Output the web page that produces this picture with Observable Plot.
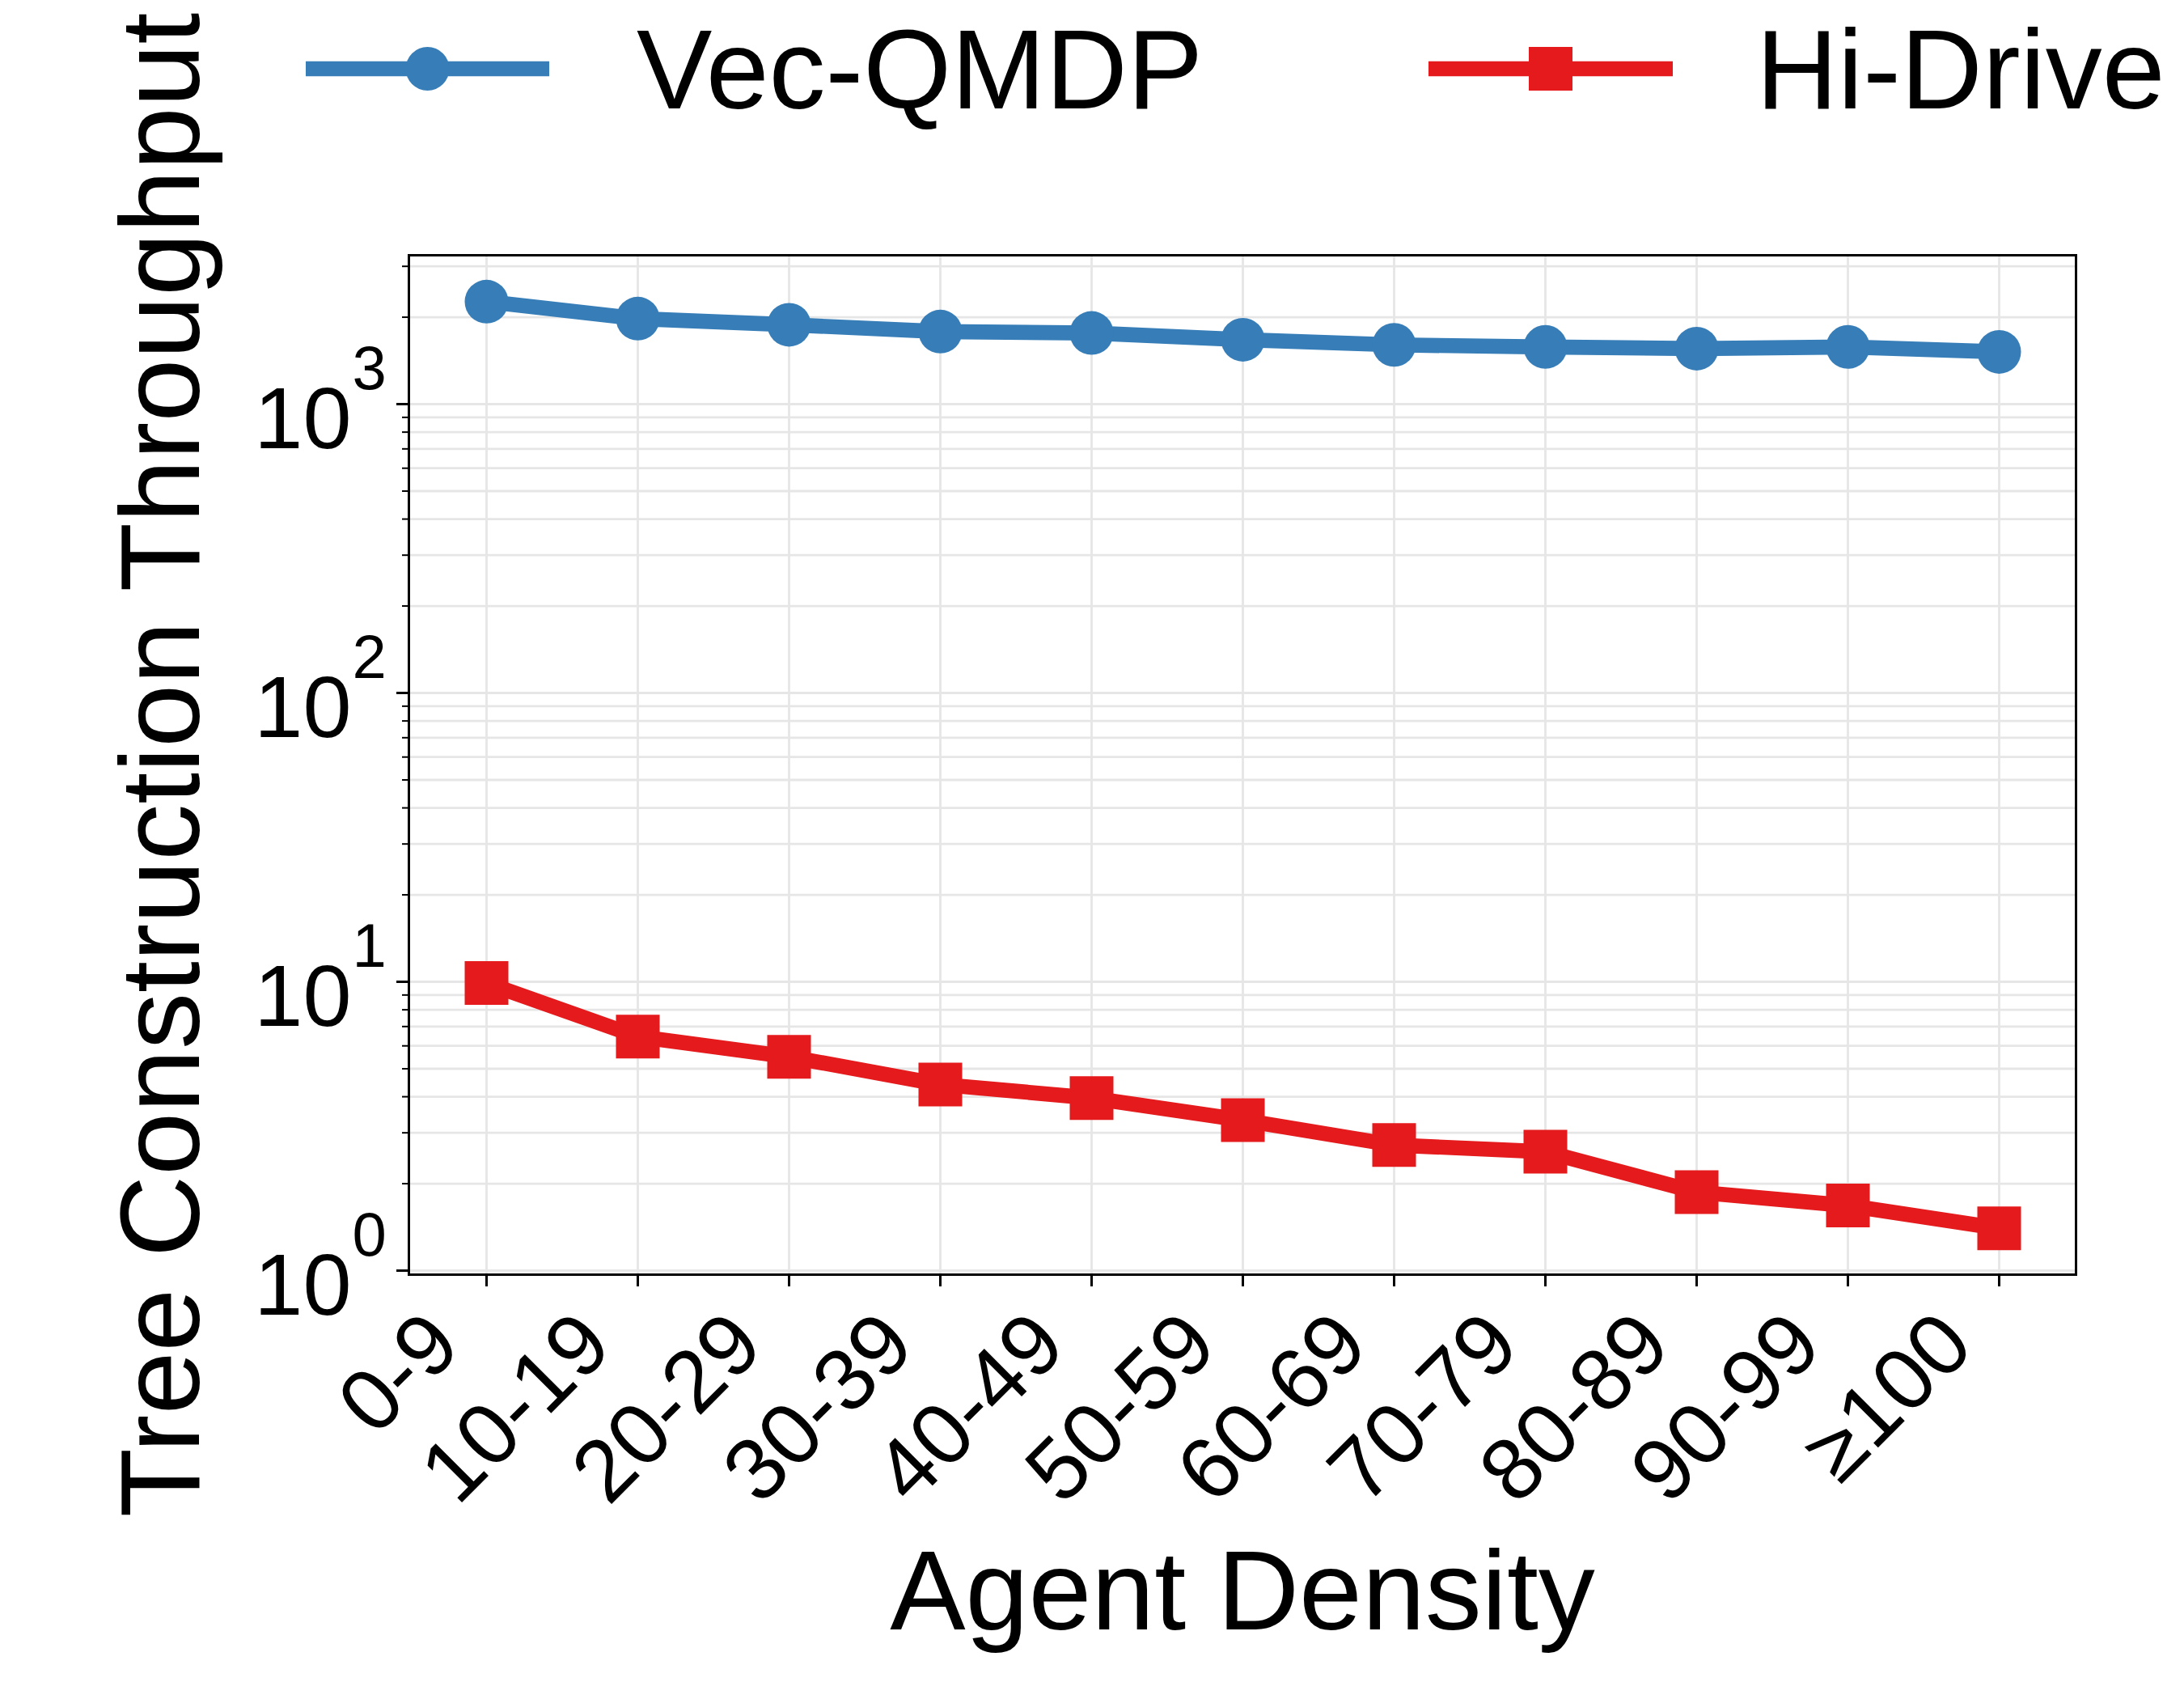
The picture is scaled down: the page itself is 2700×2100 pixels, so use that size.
<!DOCTYPE html>
<html>
<head>
<meta charset="utf-8">
<script src="https://cdn.jsdelivr.net/npm/d3@7"></script>
<script src="https://cdn.jsdelivr.net/npm/@observablehq/plot@0.6"></script>
<style>
  html, body { margin: 0; padding: 0; background: #fff; }
  #wrap { position: relative; width: 2700px; height: 2100px; overflow: hidden; background: #fff; }
  #legend { position: absolute; left: 0; top: 0; }
  #chart { position: absolute; left: 0; top: 0; }
</style>
</head>
<body>
<div id="wrap">
  <div id="chart"></div>
  <svg id="legend" width="2700" height="200"></svg>
</div>
<script>
// ---- data ----
const categories = ["0-9", "10-19", "20-29", "30-39", "40-49", "50-59", "60-69", "70-79", "80-89", "90-99", "≥100"];
const vecQmdp = [2264, 1977, 1883, 1783, 1763, 1671, 1604, 1578, 1557, 1578, 1517];
const hiDrive = [9.9, 6.46, 5.50, 4.41, 3.96, 3.32, 2.72, 2.58, 1.87, 1.68, 1.40];
const seriesNames = ["Vec-QMDP", "Hi-Drive"];
const seriesColors = ["#377eb8", "#e41a1c"];
const seriesSymbols = ["circle", "square"];
const majorTicks = [1, 10, 100, 1000];
const majorExponents = ["0", "1", "2", "3"];
const minorTicks = [2, 3, 4, 5, 6, 7, 8, 9, 20, 30, 40, 50, 60, 70, 80, 90, 200, 300, 400, 500, 600, 700, 800, 900, 2000, 3000];
const xLabel = "Agent Density";
const yLabel = "Tree Construction Throughput";

const font = "'Liberation Sans', Arial, Helvetica, sans-serif";
const gridColor = "#e6e6e6";

const vecRows = categories.map((c, i) => ({cat: c, value: vecQmdp[i]}));
const hiRows = categories.map((c, i) => ({cat: c, value: hiDrive[i]}));

const chart = Plot.plot({
  width: 2700,
  height: 2100,
  marginTop: 315,
  marginRight: 134,
  marginBottom: 525,
  marginLeft: 505,
  style: {fontFamily: font, background: "#fff", color: "#000", overflow: "visible"},
  x: {type: "point", domain: categories, padding: 0.5, label: null},
  y: {type: "log", domain: [0.9683, 3277], label: null},
  marks: [
    Plot.gridY({ticks: majorTicks.concat(minorTicks), stroke: gridColor, strokeOpacity: 1, strokeWidth: 2.8}),
    Plot.gridX({stroke: gridColor, strokeOpacity: 1, strokeWidth: 2.8}),
    Plot.line(vecRows, {x: "cat", y: "value", stroke: seriesColors[0], strokeWidth: 18.7, strokeLinejoin: "round", strokeLinecap: "butt"}),
    Plot.dot(vecRows, {x: "cat", y: "value", r: 27, fill: seriesColors[0], stroke: "none", symbol: seriesSymbols[0]}),
    Plot.line(hiRows, {x: "cat", y: "value", stroke: seriesColors[1], strokeWidth: 18.7, strokeLinejoin: "round", strokeLinecap: "butt"}),
    Plot.dot(hiRows, {x: "cat", y: "value", r: 30.47, fill: seriesColors[1], stroke: "none", symbol: seriesSymbols[1]}),
    Plot.frame({stroke: "#000", strokeWidth: 3}),
    // x ticks
    Plot.axisX({tickSize: 15, strokeWidth: 3, tickFormat: () => "", label: null}),
    Plot.axisX({tickSize: 0, tickPadding: 92, tickRotate: -45, textAnchor: "end", lineAnchor: "bottom", dx: -28, fontSize: 108, fill: "#000", label: null}),
    // y ticks
    Plot.axisY({ticks: majorTicks, tickSize: 15, strokeWidth: 3, tickFormat: () => "", label: null}),
    Plot.axisY({ticks: minorTicks, tickSize: 8, strokeWidth: 2, tickFormat: () => "", label: null}),
    // y tick labels 10^k
    Plot.text(majorTicks, {y: d => d, frameAnchor: "left", text: () => "10", textAnchor: "end", lineAnchor: "bottom", dx: -71, dy: 54, fontSize: 108, fill: "#000"}),
    Plot.text(majorTicks, {y: d => d, frameAnchor: "left", text: (d, i) => majorExponents[i], textAnchor: "start", lineAnchor: "bottom", dx: -70, dy: -19, fontSize: 76, fill: "#000"}),
    // axis titles
    Plot.text([xLabel], {frameAnchor: "bottom", text: d => d, textAnchor: "middle", lineAnchor: "bottom", dy: 438, fontSize: 140, fill: "#000"}),
    Plot.text([yLabel], {frameAnchor: "left", text: d => d, rotate: -90, textAnchor: "middle", lineAnchor: "bottom", dx: -260, fontSize: 140, fill: "#000"})
  ]
});
document.getElementById("chart").appendChild(chart);

// ---- legend ----
const legend = d3.select("#legend");
const legendItems = [
  {x1: 378, x2: 679, tx: 787},
  {x1: 1766, x2: 2068, tx: 2171}
];
seriesNames.forEach((name, i) => {
  const it = legendItems[i];
  const cx = (it.x1 + it.x2) / 2;
  legend.append("line").attr("x1", it.x1).attr("x2", it.x2).attr("y1", 85).attr("y2", 85)
    .attr("stroke", seriesColors[i]).attr("stroke-width", 18.7);
  if (seriesSymbols[i] === "circle") {
    legend.append("circle").attr("cx", cx).attr("cy", 85).attr("r", 27).attr("fill", seriesColors[i]);
  } else {
    legend.append("rect").attr("x", cx - 27).attr("y", 58).attr("width", 54).attr("height", 54).attr("fill", seriesColors[i]);
  }
  legend.append("text").attr("x", it.tx).attr("y", 134).attr("font-family", font).attr("font-size", 140)
    .attr("fill", "#000").text(name);
});
</script>
</body>
</html>
